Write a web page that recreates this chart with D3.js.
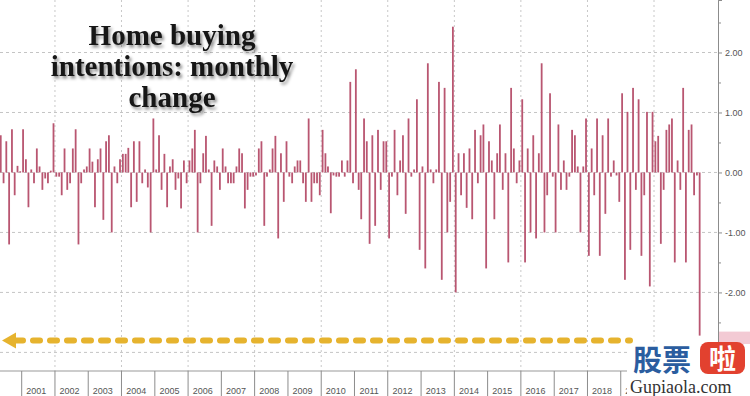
<!DOCTYPE html>
<html>
<head>
<meta charset="utf-8">
<script src="https://cdn.jsdelivr.net/npm/d3@7"></script>
<style>
  html, body { margin: 0; padding: 0; background: #fff; }
  svg { display: block; }
  .axis text { font-family: "Liberation Sans", Arial, sans-serif; font-size: 9px; fill: #555; }
  .axis path, .axis line { stroke: #8c8c8c; }
</style>
</head>
<body>
<div id="chart"></div>
<script>
// Monthly change in home buying intentions, first bar = May 2000
var startYear = 2000;
var startMonth = 4;
var changes = [
    0.62, -0.18, 0.52, -1.2, 0.72, -0.38, 0.11, 0.02, 0.72, 0.22, -0.58, 0.05,
    -0.18, 0.4, 0.1, -0.29, -0.1, -0.18, 0.03, 0.82, -0.07, -0.07, -0.38, 0.4,
    -0.29, -0.18, 0.4, 0.72, -1.2, -0.18, 0.05, 0.1, 0.4, 0.18, -0.58, 0.22,
    0.4, -0.79, 0.52, 0.62, -1.0, 0.1, -0.18, 0.22, 0.31, 0.31, 0.41, -0.58,
    0.52, -0.49, 0.52, -0.18, 0.05, -0.25, -1.0, 0.9, 0.05, 0.62, -0.29, 0.31,
    -0.58, 0.1, 0.22, -0.29, -0.1, -0.6, 0.2, -0.18, 0.2, 0.4, 0.71, -1.0,
    -0.18, 0.32, 0.61, 0.05, -0.89, 0.2, 0.1, -0.29, 0.4, 0.1, -0.18, -0.18,
    -0.18, 0.1, 0.4, 0.32, -0.6, -0.29, -0.07, -0.07, -0.05, 0.4, 0.52, -0.89,
    -0.07, 0.05, 0.4, 0.61, -1.1, 0.32, -0.49, 0.52, -0.07, -0.18, 0.1, 0.2,
    0.2, -0.18, -0.49, 0.9, -0.49, -0.18, -0.18, -0.38, 0.71, 0.32, 0.1, -0.68,
    -0.05, -0.07, -0.07, 0.2, -0.07, 0.2, 1.51, -0.18, 1.72, -0.29, -0.78, 0.9,
    0.52, -1.19, 0.62, -0.89, 0.71, -0.29, 0.52, 0.52, -1.1, -0.07, 0.71, -0.38,
    0.2, 0.62, -0.69, 0.9, -0.07, 0.05, 1.22, -1.29, 0.1, -1.6, 1.82, 0.05,
    -0.18, 0.05, 1.51, -1.79, 1.41, -1.0, -0.49, 2.43, -2.0, 0.32, -0.38, 0.32,
    -0.59, 0.4, -0.78, 0.71, -0.18, 0.62, 0.8, -1.6, 0.52, 0.2, -0.78, 0.32,
    0.8, -0.29, 0.32, -1.5, 1.41, 0.4, -0.18, 0.2, 1.22, -1.5, 0.4, -1.0,
    0.62, -1.1, 0.32, 1.82, -1.0, -0.38, 1.32, -0.07, -1.0, 0.8, -0.29, 0.2,
    -0.29, -0.07, 0.71, 0.62, 0.1, -1.0, 0.1, 0.9, -1.39, 0.4, -0.38, 0.9,
    -1.39, 0.62, -0.69, 0.9, -0.07, 0.2, -0.05, -0.49, 1.32, -1.79, 1.01, -1.29,
    1.41, -0.29, 1.22, -1.39, -0.38, 1.01, -1.9, 1.01, 0.52, 0.61, -1.19, -0.29,
    0.71, 0.8, 0.9, -1.5, 0.2, -0.29, 1.41, -1.5, 0.71, 0.8, -0.38, -0.05,
    -2.72
];
var years = d3.range(2000, 2022);
var labelYears = d3.range(2001, 2020);
var gridYears = d3.range(2002, 2021, 2);
var yGrid = [-3, -2, -1, 0, 1, 2];
var yTicks = [-2, -1, 0, 1, 2];
var yMinorTicks = [-2.5, -1.5, -0.5, 0.5, 1.5, 2.5];
var titleLines = ['Home buying', 'intentions: monthly', 'change'];
var arrowLevel = -2.8;

var W = 750, H = 396;
var axisX = 718, axisY = 371;
var wmX = 627;

var svg = d3.select('#chart').append('svg')
    .attr('width', W)
    .attr('height', H);

var defs = svg.append('defs');
var shadow = defs.append('filter').attr('id', 'shadow')
    .attr('x', '-10%').attr('y', '-20%').attr('width', '130%').attr('height', '150%');
shadow.append('feDropShadow')
    .attr('dx', 2).attr('dy', 2.5)
    .attr('stdDeviation', 1.8)
    .attr('flood-color', '#000')
    .attr('flood-opacity', 0.45);

// labels under the watermark are cut off
defs.append('clipPath').attr('id', 'cut')
    .append('rect')
    .attr('x', 0).attr('y', 0)
    .attr('width', wmX).attr('height', H);

// Scales
var x = d3.scaleTime()
    .domain([new Date(2001, 0, 1), new Date(2020, 0, 1)])
    .range([21.7, 654]);

var y = d3.scaleLinear()
    .domain([-3.31, 2.875])
    .range([axisY, 0]);

var data = changes.map(function(v, i) {
    return { date: new Date(startYear, startMonth + i, 16), value: v };
});

// Grid lines
svg.append('g')
    .selectAll('line')
    .data(yGrid)
    .enter().append('line')
    .attr('x1', 0).attr('x2', axisX)
    .attr('y1', function(d) { return y(d); })
    .attr('y2', function(d) { return y(d); })
    .attr('stroke', '#c4c4c4')
    .attr('stroke-dasharray', '3,3');

svg.append('g')
    .selectAll('line')
    .data(gridYears)
    .enter().append('line')
    .attr('x1', function(d) { return x(new Date(d, 0, 1)); })
    .attr('x2', function(d) { return x(new Date(d, 0, 1)); })
    .attr('y1', 0).attr('y2', axisY)
    .attr('stroke', '#c8c8c8')
    .attr('stroke-dasharray', '2,3');

// Bars
var barW = 1.8;
svg.append('g')
    .selectAll('rect')
    .data(data)
    .enter().append('rect')
    .attr('x', function(d) { return x(d.date) - barW / 2; })
    .attr('width', barW)
    .attr('y', function(d) { return y(Math.max(0, d.value)); })
    .attr('height', function(d) { return Math.abs(y(d.value) - y(0)); })
    .attr('fill', '#b95671');

// Bottom axis: year cells
svg.append('line')
    .attr('x1', 0).attr('x2', axisX)
    .attr('y1', axisY).attr('y2', axisY)
    .attr('stroke', '#999');

var cells = svg.append('g')
    .attr('class', 'axis')
    .attr('clip-path', 'url(#cut)');
cells.selectAll('line')
    .data(years.slice(1))
    .enter().append('line')
    .attr('x1', function(d) { return x(new Date(d, 0, 1)); })
    .attr('x2', function(d) { return x(new Date(d, 0, 1)); })
    .attr('y1', axisY).attr('y2', H)
    .attr('stroke', '#aaa');
cells.selectAll('text')
    .data(labelYears)
    .enter().append('text')
    .attr('x', function(d) { return (x(new Date(d, 0, 1)) + x(new Date(d + 1, 0, 1))) / 2 - 2; })
    .attr('y', 394)
    .attr('text-anchor', 'middle')
    .text(function(d) { return d; });

// Right axis
svg.append('g')
    .attr('class', 'axis')
    .attr('transform', 'translate(' + axisX + ',0)')
    .call(d3.axisRight(y)
        .tickValues(yMinorTicks)
        .tickSize(3)
        .tickFormat(''));

svg.append('g')
    .attr('class', 'axis')
    .attr('transform', 'translate(' + axisX + ',0)')
    .call(d3.axisRight(y)
        .tickValues(yTicks)
        .tickSize(4)
        .tickPadding(3)
        .tickFormat(function(d) { return d.toFixed(2); }));

// Last value tag
var last = data[data.length - 1];
svg.append('rect')
    .attr('x', axisX + 1).attr('y', y(last.value) - 4)
    .attr('width', W - axisX).attr('height', 14)
    .attr('fill', '#f3cad4');

// Yellow dashed arrow
var yA = y(arrowLevel);
svg.append('line')
    .attr('x1', 16).attr('x2', 630)
    .attr('y1', yA).attr('y2', yA)
    .attr('stroke', '#e6b32e')
    .attr('stroke-width', 6)
    .attr('stroke-linecap', 'round')
    .attr('stroke-dasharray', '7,10');
svg.append('path')
    .attr('d', 'M2,' + yA + 'L16,' + (yA - 8) + 'L16,' + (yA + 8) + 'Z')
    .attr('fill', '#e6b32e');

// Title
var title = svg.append('text')
    .attr('text-anchor', 'middle')
    .attr('font-family', '"Liberation Serif", "Times New Roman", serif')
    .attr('font-weight', 'bold')
    .attr('font-size', 29)
    .attr('fill', '#141414')
    .attr('filter', 'url(#shadow)');
title.selectAll('tspan')
    .data(titleLines)
    .enter().append('tspan')
    .attr('x', 172)
    .attr('y', function(d, i) { return 45 + i * 31; })
    .text(function(d) { return d; });

// Watermark
var wm = svg.append('g');
wm.append('rect')
    .attr('x', wmX).attr('y', 344)
    .attr('width', W - wmX).attr('height', H - 344)
    .attr('fill', '#fff');
wm.append('text')
    .attr('x', 633).attr('y', 371)
    .attr('font-family', '"Noto Sans CJK SC", sans-serif')
    .attr('font-weight', 'bold')
    .attr('font-size', 29)
    .attr('fill', '#2b5d9f')
    .text('股票');
wm.append('rect')
    .attr('x', 700).attr('y', 342)
    .attr('width', 45).attr('height', 32)
    .attr('rx', 8)
    .attr('fill', '#e2412f');
wm.append('text')
    .attr('x', 722.5).attr('y', 369)
    .attr('text-anchor', 'middle')
    .attr('font-family', '"Noto Sans CJK SC", sans-serif')
    .attr('font-weight', 'bold')
    .attr('font-size', 27)
    .attr('fill', '#fff')
    .text('啦');
wm.append('text')
    .attr('x', 630).attr('y', 393)
    .attr('font-family', '"Liberation Serif", serif')
    .attr('font-size', 18)
    .attr('fill', '#333')
    .text('Gupiaola.com');
</script>
</body>
</html>
